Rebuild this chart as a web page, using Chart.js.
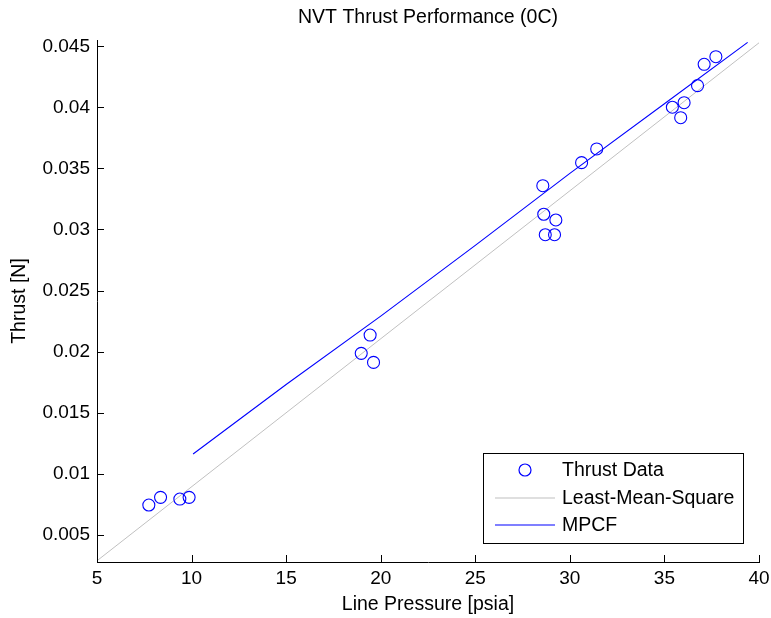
<!DOCTYPE html>
<html>
<head>
<meta charset="utf-8">
<title>NVT Thrust Performance (0C)</title>
<script src="https://cdn.jsdelivr.net/npm/chart.js@4.4.0/dist/chart.umd.min.js"></script>
<style>
  html, body { margin: 0; padding: 0; background: #ffffff; }
  #wrap { width: 771px; height: 618px; }
</style>
</head>
<body>
<div id="wrap"><canvas id="c" width="771" height="618"></canvas></div>
<script>
// Measured thrust at each line pressure
const pressure = [7.74, 8.36, 9.38, 9.87, 18.97, 19.44, 19.62, 28.57, 28.62, 28.70, 29.19, 29.26, 30.62, 31.42, 35.42, 35.86, 36.04, 36.75, 37.10, 37.72];
const thrust   = [0.00742, 0.00805, 0.00791, 0.00805, 0.01985, 0.02135, 0.01911, 0.03359, 0.03125, 0.02957, 0.02957, 0.03078, 0.03548, 0.03660, 0.04002, 0.03916, 0.04039, 0.04179, 0.04354, 0.04416];

// Least-mean-square straight-line fit
const lmsPressure = [5, 40];
const lmsThrust   = [0.00285, 0.04530];

// MPCF model curve
const mpcfPressure = [10.08, 15, 20, 25, 30, 35, 39.4];
const mpcfThrust   = [0.01160, 0.01730, 0.02290, 0.02870, 0.03460, 0.04030, 0.04534];

// Axis ticks
const xTicks = [5, 10, 15, 20, 25, 30, 35, 40];
const xTickLabels = ['5', '10', '15', '20', '25', '30', '35', '40'];
const yTicks = [0.005, 0.01, 0.015, 0.02, 0.025, 0.03, 0.035, 0.04, 0.045];
const yTickLabels = ['0.005', '0.01', '0.015', '0.02', '0.025', '0.03', '0.035', '0.04', '0.045'];

const DATA_BLUE = '#0000ff';
const FIT_GREY = '#c0c0c0';

const toPoints = (xs, ys) => xs.map((x, i) => ({ x: x, y: ys[i] }));
const labelFor = (ticks, labels, v) => {
  const i = ticks.findIndex(t => Math.abs(t - v) < 1e-9);
  return i >= 0 ? labels[i] : '';
};

const FONT = "'Liberation Sans', Arial, Helvetica, sans-serif";
Chart.defaults.font.family = FONT;
Chart.defaults.color = '#000000';

// Tick marks drawn inside the plot area along the left and bottom axes
const inwardTicks = {
  id: 'inwardTicks',
  afterDraw(chart) {
    const { ctx, chartArea, scales } = chart;
    const len = 7;
    ctx.save();
    ctx.strokeStyle = '#000000';
    ctx.lineWidth = 1;
    scales.x.ticks.forEach(t => {
      const px = Math.round(scales.x.getPixelForValue(t.value)) + 0.5;
      ctx.beginPath();
      ctx.moveTo(px, chartArea.bottom);
      ctx.lineTo(px, chartArea.bottom - len);
      ctx.stroke();
    });
    scales.y.ticks.forEach(t => {
      const py = Math.round(scales.y.getPixelForValue(t.value)) + 0.5;
      ctx.beginPath();
      ctx.moveTo(chartArea.left, py);
      ctx.lineTo(chartArea.left + len, py);
      ctx.stroke();
    });
    ctx.restore();
  }
};

// Boxed legend in the lower right corner of the axes
const boxLegend = {
  id: 'boxLegend',
  afterDraw(chart) {
    const { ctx, chartArea } = chart;
    const w = 260, h = 90;
    const right = chartArea.right - 16, bottom = chartArea.bottom - 19;
    const left = right - w, top = bottom - h;
    ctx.save();
    ctx.fillStyle = '#ffffff';
    ctx.fillRect(left, top, w, h);
    ctx.strokeStyle = '#000000';
    ctx.lineWidth = 1;
    ctx.strokeRect(Math.round(left) + 0.5, Math.round(top) + 0.5, w, h);
    const rows = [top + 17, top + 44.5, top + 71.5];
    const sampleL = left + 12, sampleR = left + 72, textX = left + 79;
    ctx.font = '19.5px ' + FONT;
    ctx.textBaseline = 'middle';
    ctx.textAlign = 'left';
    chart.data.datasets.forEach((ds, i) => {
      const yy = Math.round(rows[i]);
      ctx.strokeStyle = ds.legendColor;
      ctx.lineWidth = 1.2;
      ctx.beginPath();
      if (ds.showLine === false) {
        ctx.arc((sampleL + sampleR) / 2, yy, 6, 0, Math.PI * 2);
      } else {
        ctx.moveTo(sampleL, yy);
        ctx.lineTo(sampleR, yy);
      }
      ctx.stroke();
      ctx.fillStyle = '#000000';
      ctx.fillText(ds.label, textX, rows[i] + 1);
    });
    ctx.restore();
  }
};

new Chart(document.getElementById('c'), {
  type: 'scatter',
  data: {
    datasets: [
      {
        label: 'Thrust Data',
        legendColor: DATA_BLUE,
        data: toPoints(pressure, thrust),
        showLine: false,
        pointStyle: 'circle',
        pointRadius: 6,
        pointBorderWidth: 1.1,
        borderColor: DATA_BLUE,
        pointBorderColor: DATA_BLUE,
        pointBackgroundColor: 'rgba(0,0,0,0)',
        order: 0
      },
      {
        label: 'Least-Mean-Square',
        legendColor: FIT_GREY,
        data: toPoints(lmsPressure, lmsThrust),
        showLine: true,
        borderColor: FIT_GREY,
        borderWidth: 1,
        pointRadius: 0,
        fill: false,
        order: 2
      },
      {
        label: 'MPCF',
        legendColor: DATA_BLUE,
        data: toPoints(mpcfPressure, mpcfThrust),
        showLine: true,
        borderColor: DATA_BLUE,
        borderWidth: 1.1,
        pointRadius: 0,
        fill: false,
        order: 1
      }
    ]
  },
  options: {
    responsive: false,
    animation: false,
    devicePixelRatio: 1,
    layout: { padding: { left: 0, right: 12, top: 0, bottom: 0 } },
    plugins: {
      legend: { display: false },
      tooltip: { enabled: false },
      title: {
        display: true,
        fullSize: false,
        text: 'NVT Thrust Performance (0C)',
        color: '#000000',
        font: { size: 19.5, weight: 'normal' },
        padding: { top: 6, bottom: 10.6 }
      }
    },
    scales: {
      x: {
        type: 'linear',
        min: 5,
        max: 40,
        afterBuildTicks: s => { s.ticks = xTicks.map(v => ({ value: v })); },
        afterFit: s => { s.height = 56; s.paddingLeft = 0; s.paddingRight = 0; },
        ticks: {
          callback: v => labelFor(xTicks, xTickLabels, v),
          font: { size: 19 },
          color: '#000000',
          padding: 5,
          maxRotation: 0,
          autoSkip: false
        },
        grid: { display: false, drawTicks: false },
        border: { display: true, color: '#000000', width: 1 },
        title: {
          display: true,
          text: 'Line Pressure [psia]',
          color: '#000000',
          font: { size: 19.5 },
          padding: { top: 0, bottom: 2 }
        }
      },
      y: {
        type: 'linear',
        min: 0.00275,
        max: 0.04553,
        afterBuildTicks: s => { s.ticks = yTicks.map(v => ({ value: v })); },
        afterFit: s => { s.width = 97; s.paddingTop = 0; s.paddingBottom = 0; },
        ticks: {
          callback: v => labelFor(yTicks, yTickLabels, v),
          font: { size: 19 },
          color: '#000000',
          padding: 7,
          autoSkip: false
        },
        grid: { display: false, drawTicks: false },
        border: { display: true, color: '#000000', width: 1 },
        title: {
          display: true,
          text: 'Thrust [N]',
          color: '#000000',
          font: { size: 19.5 },
          padding: { top: 8, bottom: 0 }
        }
      }
    }
  },
  plugins: [inwardTicks, boxLegend]
});
</script>
</body>
</html>
